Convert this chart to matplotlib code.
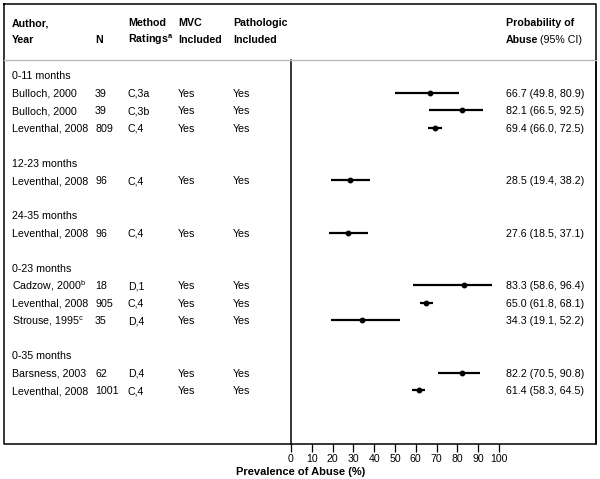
import matplotlib
matplotlib.use("Agg")
import matplotlib.pyplot as plt
from matplotlib.transforms import blended_transform_factory
from matplotlib.lines import Line2D

plt.rcParams["font.family"] = ["Liberation Sans", "DejaVu Sans"]
plt.rcParams["mathtext.fontset"] = "custom"
plt.rcParams["mathtext.rm"] = "Liberation Sans"

# groups and studies
group_names = ["0-11 months", "12-23 months", "24-35 months", "0-23 months", "0-35 months"]
group_sizes = [3, 1, 1, 3, 2]
study = ["Bulloch, 2000", "Bulloch, 2000", "Leventhal, 2008",
         "Leventhal, 2008",
         "Leventhal, 2008",
         r"Cadzow, 2000$^\mathregular{b}$", "Leventhal, 2008", r"Strouse, 1995$^\mathregular{c}$",
         "Barsness, 2003", "Leventhal, 2008"]
n = [39, 39, 809, 96, 96, 18, 905, 35, 62, 1001]
ratings = ["C,3a", "C,3b", "C,4", "C,4", "C,4", "D,1", "C,4", "D,4", "D,4", "C,4"]
mvc = ["Yes", "Yes", "Yes", "Yes", "Yes", "Yes", "Yes", "Yes", "Yes", "Yes"]
pathologic = ["Yes", "Yes", "Yes", "Yes", "Yes", "Yes", "Yes", "Yes", "Yes", "Yes"]
est = [66.7, 82.1, 69.4, 28.5, 27.6, 83.3, 65.0, 34.3, 82.2, 61.4]
lo = [49.8, 66.5, 66.0, 19.4, 18.5, 58.6, 61.8, 19.1, 70.5, 58.3]
hi = [80.9, 92.5, 72.5, 38.2, 37.1, 96.4, 68.1, 52.2, 90.8, 64.5]
xticks = [0, 10, 20, 30, 40, 50, 60, 70, 80, 90, 100]

W, H = 600, 479
fig = plt.figure(figsize=(W / 100, H / 100), dpi=100)

def fx(px):
    return px / W

def fy(py):
    return 1 - py / H

# row positions: group label then its studies, blank line between groups
row_px = 17.5
first_row = 75
top_px, bot_px = 60, 444
ax_left, ax_right = 291, 596
xmax = 100 * (ax_right - ax_left) / (499 - ax_left)
base = 4.0 / row_px   # baseline sits a bit below the row centre

ax = fig.add_axes([fx(ax_left), fy(bot_px), fx(ax_right - ax_left), (bot_px - top_px) / H])
ax.set_xlim(0, xmax)
ax.set_ylim((bot_px - first_row) / row_px, (top_px - first_row) / row_px)
ax.spines["top"].set_visible(False)
ax.spines["bottom"].set_visible(False)
for s in ["left", "right"]:
    ax.spines[s].set_linewidth(1.1)
ax.set_yticks([])
ax.set_xticks(xticks)
ax.tick_params(axis="x", length=6, width=0.9, labelsize=7.6, pad=1)
ax.set_xlabel("Prevalence of Abuse (%)", fontsize=8.0, fontweight="bold", labelpad=0)
ax.xaxis.set_label_coords((301 - ax_left) / (ax_right - ax_left), -0.059)

trans = blended_transform_factory(fig.transFigure, ax.transData)
fs = 7.7
col_x = {"author": 12, "n": 95, "rating": 128, "mvc": 178, "path": 233, "ci": 506}

def cell(x, r, s):
    ax.text(fx(x), r + base, s, transform=trans, fontsize=fs, va="baseline")

row = 0
k = 0
for g, size in zip(group_names, group_sizes):
    cell(col_x["author"], row, g)
    row += 1
    for _ in range(size):
        cell(col_x["author"], row, study[k])
        cell(col_x["n"], row, str(n[k]))
        cell(col_x["rating"], row, ratings[k])
        cell(col_x["mvc"], row, mvc[k])
        cell(col_x["path"], row, pathologic[k])
        cell(col_x["ci"], row, "%.1f (%.1f, %.1f)" % (est[k], lo[k], hi[k]))
        ax.plot([lo[k], hi[k]], [row, row], color="black", lw=1.6, solid_capstyle="butt")
        ax.plot(est[k], row, "o", color="black", ms=3.2)
        row += 1
        k += 1
    row += 1

# header
hdr = dict(fontsize=fs, fontweight="bold", va="baseline")
y1, y2 = fy(26), fy(43)
fig.text(fx(col_x["author"]), y1, "Author,", **hdr)
fig.text(fx(col_x["author"]), y2, "Year", **hdr)
fig.text(fx(col_x["n"]), y2, "N", **hdr)
fig.text(fx(col_x["rating"]), y1, "Method", **hdr)
fig.text(fx(col_x["rating"]), y2, r"Ratings$^\mathregular{a}$", **hdr)
fig.text(fx(col_x["mvc"]), y1, "MVC", **hdr)
fig.text(fx(col_x["mvc"]), y2, "Included", **hdr)
fig.text(fx(col_x["path"]), y1, "Pathologic", **hdr)
fig.text(fx(col_x["path"]), y2, "Included", **hdr)
fig.text(fx(col_x["ci"]), y1, "Probability of", **hdr)
fig.text(fx(col_x["ci"]), y2, "Abuse", **hdr)
fig.text(fx(col_x["ci"] + 34), y2, "(95% CI)", fontsize=fs, va="baseline")

# outer box and header separator
fig.add_artist(Line2D([fx(4), fx(596), fx(596), fx(4), fx(4)],
                      [fy(4), fy(4), fy(444), fy(444), fy(4)],
                      transform=fig.transFigure, color="black", lw=1.1))
fig.add_artist(Line2D([fx(4), fx(596)], [fy(60), fy(60)],
                      transform=fig.transFigure, color="#bbbbbb", lw=1.0))

fig.savefig("out.png", dpi=100, facecolor="white")
